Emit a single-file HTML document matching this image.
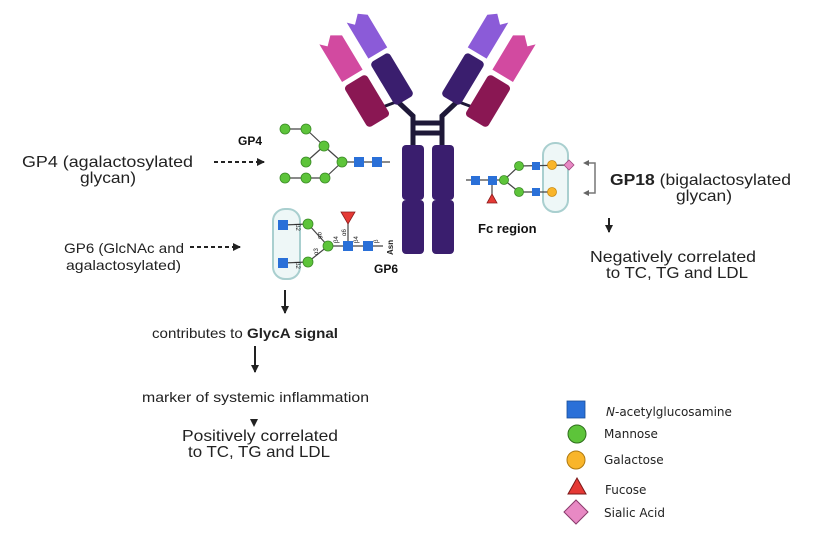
<!DOCTYPE html>
<html><head><meta charset="utf-8"><style>
html,body{margin:0;padding:0;background:#fff;}
svg{display:block;font-family:"Liberation Sans",sans-serif;}
</style></head><body>
<svg width="823" height="538" viewBox="0 0 823 538" xmlns="http://www.w3.org/2000/svg">
<defs>
<marker id="ah" markerWidth="8" markerHeight="8" refX="7" refY="4" orient="auto" markerUnits="userSpaceOnUse"><path d="M0,0 L8,4 L0,8 Z" fill="#222"/></marker>
<rect id="dk" x="-11" y="-25" width="22" height="50" rx="4" fill="#3a1e6e"/>
<path id="lp" d="M-11,-21 L-5,-15 L3,-23 L11,-17 L11,21 L-11,21 Z" fill="#8b5bd8"/>
<path id="pk" d="M-12,-22 L-6,-16 L2,-24 L12,-18 L12,22 L-12,22 Z" fill="#d24aa0"/>
<rect id="mr" x="-13" y="-24" width="26" height="48" rx="4" fill="#8a1753"/>
</defs>

<!-- Antibody hinge -->
<g stroke="#1e1838" stroke-width="5" fill="none">
  <path d="M413,146 L413,116 L396,100"/>
  <path d="M442,146 L442,116 L459,100"/>
  <line x1="413" y1="123" x2="442" y2="123"/>
  <line x1="413" y1="133" x2="442" y2="133"/>
</g>
<g stroke="#1e1838" stroke-width="3">
  <line x1="380" y1="108" x2="396" y2="102"/>
  <line x1="475" y1="108" x2="459" y2="102"/>
</g>
<!-- left arm -->
<use href="#lp" transform="translate(367,35) rotate(-31)"/>
<use href="#pk" transform="translate(341,57) rotate(-31)"/>
<use href="#dk" transform="translate(392,79) rotate(-31)"/>
<use href="#mr" transform="translate(367,101) rotate(-31)"/>
<!-- right arm (mirror) -->
<g transform="translate(855,0) scale(-1,1)">
<use href="#lp" transform="translate(367,35) rotate(-31)"/>
<use href="#pk" transform="translate(341,57) rotate(-31)"/>
<use href="#dk" transform="translate(392,79) rotate(-31)"/>
<use href="#mr" transform="translate(367,101) rotate(-31)"/>
</g>
<rect x="402" y="145" width="22" height="55" rx="4" fill="#3a1e6e"/>
<rect x="402" y="200" width="22" height="54" rx="4" fill="#3a1e6e"/>
<rect x="432" y="145" width="22" height="55" rx="4" fill="#3a1e6e"/>
<rect x="432" y="200" width="22" height="54" rx="4" fill="#3a1e6e"/>

<!-- GP4 glycan -->
<g stroke="#444" stroke-width="1.2">
  <line x1="285" y1="129" x2="306" y2="129"/><line x1="306" y1="129" x2="324" y2="146"/>
  <line x1="306" y1="162" x2="324" y2="146"/><line x1="324" y1="146" x2="342" y2="162"/>
  <line x1="285" y1="178" x2="325" y2="178"/><line x1="325" y1="178" x2="342" y2="162"/>
  <line x1="342" y1="162" x2="390" y2="162"/>
</g>
<g fill="#5dc43a" stroke="#3a8a25" stroke-width="0.8">
  <circle cx="285" cy="129" r="5"/><circle cx="306" cy="129" r="5"/><circle cx="324" cy="146" r="5"/>
  <circle cx="306" cy="162" r="5"/><circle cx="342" cy="162" r="5"/>
  <circle cx="285" cy="178" r="5"/><circle cx="306" cy="178" r="5"/><circle cx="325" cy="178" r="5"/>
</g>
<g fill="#2a70d8"><rect x="354" y="157" width="10" height="10"/><rect x="372" y="157" width="10" height="10"/></g>
<text x="238" y="145" font-size="12" font-weight="bold" fill="#111">GP4</text>

<!-- GP6 glycan -->
<rect x="273" y="209" width="27" height="70" rx="12" fill="#eef7f7" stroke="#a9cfcf" stroke-width="2"/>
<g stroke="#444" stroke-width="1.2">
  <line x1="283" y1="225" x2="308" y2="224"/><line x1="283" y1="263" x2="308" y2="262"/>
  <line x1="308" y1="224" x2="328" y2="246"/><line x1="308" y1="262" x2="328" y2="246"/>
  <line x1="328" y1="246" x2="383" y2="246"/><line x1="348" y1="246" x2="348" y2="222"/>
</g>
<g fill="#2a70d8"><rect x="278" y="220" width="10" height="10"/><rect x="278" y="258" width="10" height="10"/>
<rect x="343" y="241" width="10" height="10"/><rect x="363" y="241" width="10" height="10"/></g>
<g fill="#5dc43a" stroke="#3a8a25" stroke-width="0.8">
  <circle cx="308" cy="224" r="5"/><circle cx="308" cy="262" r="5"/><circle cx="328" cy="246" r="5"/>
</g>
<path d="M341,212 L355,212 L348,224 Z" fill="#e53935" stroke="#8a1c1c" stroke-width="0.8"/>
<g font-size="6" fill="#222">
  <text transform="translate(296,224) rotate(90)">β2</text>
  <text transform="translate(296,262) rotate(90)">β2</text>
  <text transform="translate(318,232) rotate(90)">α6</text>
  <text transform="translate(318,255) rotate(-90)">α3</text>
  <text transform="translate(338,243) rotate(-90)">β4</text>
  <text transform="translate(346,236) rotate(-90)">α6</text>
  <text transform="translate(358,243) rotate(-90)">β4</text>
  <text transform="translate(378,243) rotate(-90)">β</text>
  <text transform="translate(393,255) rotate(-90)" font-size="8" font-weight="bold">Asn</text>
</g>
<text x="374" y="273" font-size="12" font-weight="bold" fill="#111">GP6</text>

<!-- GP18 glycan -->
<rect x="543" y="143" width="25" height="69" rx="12" fill="#eef7f7" stroke="#a9cfcf" stroke-width="2"/>
<g stroke="#444" stroke-width="1.2">
  <line x1="466" y1="180" x2="504" y2="180"/><line x1="492" y1="180" x2="492" y2="195"/>
  <line x1="504" y1="180" x2="519" y2="166"/><line x1="504" y1="180" x2="519" y2="192"/>
  <line x1="519" y1="166" x2="569" y2="165"/><line x1="519" y1="192" x2="552" y2="192"/>
</g>
<g fill="#2a70d8"><rect x="471" y="176" width="9" height="9"/><rect x="488" y="176" width="9" height="9"/>
<rect x="532" y="162" width="8" height="8"/><rect x="532" y="188" width="8" height="8"/></g>
<g fill="#5dc43a" stroke="#3a8a25" stroke-width="0.8">
  <circle cx="504" cy="180" r="4.5"/><circle cx="519" cy="166" r="4.5"/><circle cx="519" cy="192" r="4.5"/>
</g>
<g fill="#f9b52a" stroke="#c98a10" stroke-width="0.8"><circle cx="552" cy="165" r="4.5"/><circle cx="552" cy="192" r="4.5"/></g>
<path d="M569,160 L574,165 L569,170 L564,165 Z" fill="#e889c4" stroke="#a0487f" stroke-width="0.8"/>
<path d="M487,203 L497,203 L492,194 Z" fill="#e53935" stroke="#8a1c1c" stroke-width="0.8"/>
<path d="M586,163 L595,163 L595,193 L586,193" fill="none" stroke="#777" stroke-width="1.5"/>
<path d="M583,163 L589,160 L589,166 Z M583,193 L589,190 L589,196 Z" fill="#666"/>
<text x="478" y="233" font-size="13" font-weight="bold" fill="#111">Fc region</text>

<!-- left labels -->
<text x="22" y="167" font-size="16" fill="#222" textLength="171" lengthAdjust="spacingAndGlyphs">GP4  (agalactosylated</text>
<text x="80" y="183" font-size="16" fill="#222" textLength="56" lengthAdjust="spacingAndGlyphs">glycan)</text>
<line x1="214" y1="162" x2="264" y2="162" stroke="#222" stroke-width="2" stroke-dasharray="4,3" marker-end="url(#ah)"/>
<text x="64" y="253" font-size="14" fill="#222" textLength="120" lengthAdjust="spacingAndGlyphs">GP6 (GlcNAc and</text>
<text x="66" y="270" font-size="14" fill="#222" textLength="115" lengthAdjust="spacingAndGlyphs">agalactosylated)</text>
<line x1="190" y1="247" x2="240" y2="247" stroke="#222" stroke-width="2" stroke-dasharray="4,3" marker-end="url(#ah)"/>

<!-- bottom flow -->
<line x1="285" y1="290" x2="285" y2="313" stroke="#222" stroke-width="2" marker-end="url(#ah)"/>
<text x="152" y="338" font-size="14" fill="#222" textLength="186" lengthAdjust="spacingAndGlyphs">contributes to <tspan font-weight="bold">GlycA signal</tspan></text>
<line x1="255" y1="346" x2="255" y2="372" stroke="#222" stroke-width="2" marker-end="url(#ah)"/>
<text x="142" y="402" font-size="14" fill="#222" textLength="227" lengthAdjust="spacingAndGlyphs">marker of systemic inflammation</text>
<path d="M250,419 L258,419 L254,427 Z" fill="#222"/>
<text x="182" y="441" font-size="16" fill="#222" textLength="156" lengthAdjust="spacingAndGlyphs">Positively correlated</text>
<text x="188" y="457" font-size="16" fill="#222" textLength="142" lengthAdjust="spacingAndGlyphs">to TC, TG and LDL</text>

<!-- right labels -->
<text x="610" y="185" font-size="16" fill="#222" textLength="181" lengthAdjust="spacingAndGlyphs"><tspan font-weight="bold">GP18</tspan> (bigalactosylated</text>
<text x="676" y="201" font-size="16" fill="#222" textLength="56" lengthAdjust="spacingAndGlyphs">glycan)</text>
<line x1="609" y1="218" x2="609" y2="232" stroke="#222" stroke-width="2" marker-end="url(#ah)"/>
<text x="590" y="262" font-size="16" fill="#222" textLength="166" lengthAdjust="spacingAndGlyphs">Negatively correlated</text>
<text x="606" y="278" font-size="16" fill="#222" textLength="142" lengthAdjust="spacingAndGlyphs">to TC, TG and LDL</text>

<!-- legend -->
<rect x="567" y="401" width="18" height="17" fill="#2a70d8" stroke="#1a4d99" stroke-width="0.8"/>
<circle cx="577" cy="434" r="9" fill="#5dc43a" stroke="#2f6e1d"/>
<circle cx="576" cy="460" r="9" fill="#f9b52a" stroke="#b07a10"/>
<path d="M568,494 L586,494 L577,478 Z" fill="#e53935" stroke="#7a1818"/>
<path d="M576,500 L588,512 L576,524 L564,512 Z" fill="#e889c4" stroke="#8a3a6c"/>
<g font-family="'DejaVu Sans',sans-serif" font-size="12" fill="#222">
<text x="606" y="416"><tspan font-style="italic">N</tspan>-acetylglucosamine</text>
<text x="604" y="438">Mannose</text>
<text x="604" y="464">Galactose</text>
<text x="605" y="494">Fucose</text>
<text x="604" y="517">Sialic Acid</text>
</g>
</svg>
</body></html>
